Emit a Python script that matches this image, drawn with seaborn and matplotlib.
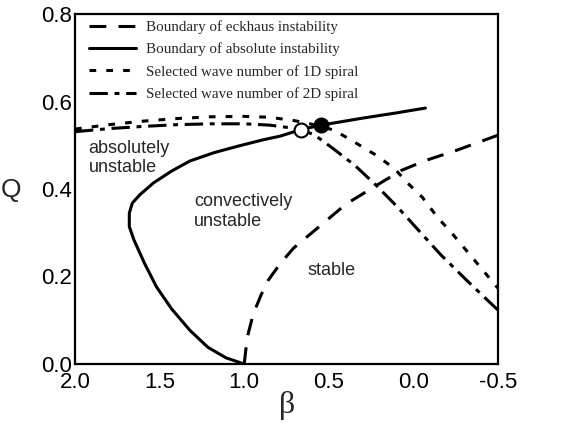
import matplotlib
matplotlib.use("Agg")
import matplotlib.pyplot as plt
import seaborn as sns
import pandas as pd

# ---- data ----
beta_eckhaus = [1.0, 0.982, 0.946, 0.900, 0.857, 0.786, 0.708, 0.563, 0.4, 0.219, 0.074,
                -0.071, -0.252, -0.5]
Q_eckhaus = [0.0, 0.061, 0.115, 0.158, 0.192, 0.23, 0.265, 0.312, 0.365, 0.408, 0.442,
             0.465, 0.488, 0.523]

beta_abs = [1.0, 1.107, 1.214, 1.321, 1.429, 1.518, 1.589, 1.652, 1.679, 1.679, 1.661, 1.616,
            1.536, 1.429, 1.321, 1.179, 1.036, 0.893, 0.786, 0.663, 0.545, 0.3, 0.1, -0.071]
Q_abs = [0.0, 0.014, 0.038, 0.077, 0.126, 0.176, 0.230, 0.284, 0.314, 0.345, 0.368, 0.387,
         0.414, 0.441, 0.464, 0.483, 0.498, 0.512, 0.521, 0.536, 0.546, 0.562, 0.574, 0.585]

beta_1d = [2.0, 1.8, 1.6, 1.4, 1.2, 1.0, 0.85, 0.7, 0.6, 0.473, 0.382, 0.219, 0.11, 0.038,
           -0.053, -0.143, -0.234, -0.392, -0.5]
Q_1d = [0.537, 0.547, 0.555, 0.561, 0.565, 0.566, 0.564, 0.556, 0.548, 0.535, 0.515, 0.477,
        0.446, 0.415, 0.381, 0.335, 0.296, 0.223, 0.173]

beta_2d = [2.0, 1.8, 1.6, 1.4, 1.2, 1.0, 0.85, 0.75, 0.663, 0.582, 0.473, 0.346, 0.219, 0.092,
           -0.034, -0.161, -0.313, -0.5]
Q_2d = [0.531, 0.538, 0.543, 0.547, 0.549, 0.549, 0.546, 0.541, 0.536, 0.523, 0.492, 0.454,
        0.408, 0.358, 0.304, 0.25, 0.192, 0.123]

open_pt_beta = [0.663]
open_pt_Q = [0.536]
filled_pt_beta = [0.545]
filled_pt_Q = [0.546]

labels = ["Boundary of eckhaus instability",
          "Boundary of absolute instability",
          "Selected wave number of 1D spiral",
          "Selected wave number of 2D spiral"]

x_ticks = [2.0, 1.5, 1.0, 0.5, 0.0, -0.5]
x_tick_labels = ["2.0", "1.5", "1.0", "0.5", "0.0", "-0.5"]
y_ticks = [0.0, 0.2, 0.4, 0.6, 0.8]
y_tick_labels = ["0.0", "0.2", "0.4", "0.6", "0.8"]

# ---- style ----
sns.set_style("white")
plt.rcParams['font.family'] = ['Liberation Sans', 'DejaVu Sans']

fig = plt.figure(figsize=(5.75, 4.26), dpi=100)
ax = fig.add_axes([75/575, 62/426, (498-75)/575, (364-14)/426])

lw = 2.2
df_e = pd.DataFrame({"beta": beta_eckhaus, "Q": Q_eckhaus})
df_a = pd.DataFrame({"beta": beta_abs, "Q": Q_abs})
df_1 = pd.DataFrame({"beta": beta_1d, "Q": Q_1d})
df_2 = pd.DataFrame({"beta": beta_2d, "Q": Q_2d})

sns.lineplot(data=df_e, x="beta", y="Q", sort=False, estimator=None, ax=ax, color="black",
             lw=lw, linestyle=(0, (5.5, 4)), label=labels[0])
sns.lineplot(data=df_a, x="beta", y="Q", sort=False, estimator=None, ax=ax, color="black",
             lw=lw, linestyle="-", label=labels[1])
sns.lineplot(data=df_1, x="beta", y="Q", sort=False, estimator=None, ax=ax, color="black",
             lw=lw, linestyle=(0, (2.2, 3.3)), label=labels[2])
sns.lineplot(data=df_2, x="beta", y="Q", sort=False, estimator=None, ax=ax, color="black",
             lw=lw, linestyle=(0, (6, 2.2, 1.6, 2.2)), label=labels[3])

sns.scatterplot(x=open_pt_beta, y=open_pt_Q, ax=ax, s=100, color="white",
                edgecolor="black", linewidth=1.5, zorder=5, legend=False)
sns.scatterplot(x=filled_pt_beta, y=filled_pt_Q, ax=ax, s=100, color="black",
                edgecolor="black", linewidth=1.5, zorder=5, legend=False)

ax.set_xlim(2.0, -0.5)
ax.set_ylim(0.0, 0.8)
ax.set_xticks(x_ticks)
ax.set_xticklabels(x_tick_labels)
ax.set_yticks(y_ticks)
ax.set_yticklabels(y_tick_labels)
ax.set_xticks([1.75, 1.25, 0.75, 0.25, -0.25], minor=True)
ax.set_yticks([0.1, 0.3, 0.5, 0.7], minor=True)
ax.tick_params(which="both", direction="in", top=False, right=False, labelsize=16,
               width=1.1, colors="black")
ax.tick_params(which="major", length=6.5)
ax.tick_params(which="minor", length=4)
ax.tick_params(axis="x", pad=6)
ax.tick_params(axis="y", pad=2)
for sp in ax.spines.values():
    sp.set_linewidth(1.6)
    sp.set_color("black")
    sp.set_visible(True)

ax.set_xlabel("")
ax.set_ylabel("")
fig.text(287/575, 1 - 406/426, "β", family=["Liberation Serif"], fontsize=23,
         ha="center", va="center")
fig.text(11/575, 1 - 190/426, "Q", fontsize=19, ha="center", va="center")

ax.text(1.92, 0.512, "absolutely\nunstable", fontsize=13, ha="left", va="top",
        linespacing=1.15)
ax.text(1.295, 0.39, "convectively\nunstable", fontsize=13, ha="left", va="top",
        linespacing=1.2)
ax.text(0.627, 0.214, "stable", fontsize=13, ha="left", va="center")

leg = ax.legend(loc="upper left", bbox_to_anchor=(0.02, 1.0), frameon=False,
                prop={"family": "Liberation Serif", "size": 10.8},
                handlelength=3.1, handletextpad=0.7, labelspacing=0.58,
                borderaxespad=0.0, borderpad=0.4)
for h in leg.get_lines():
    h.set_linewidth(2.2)

fig.savefig("out.png", dpi=100)
